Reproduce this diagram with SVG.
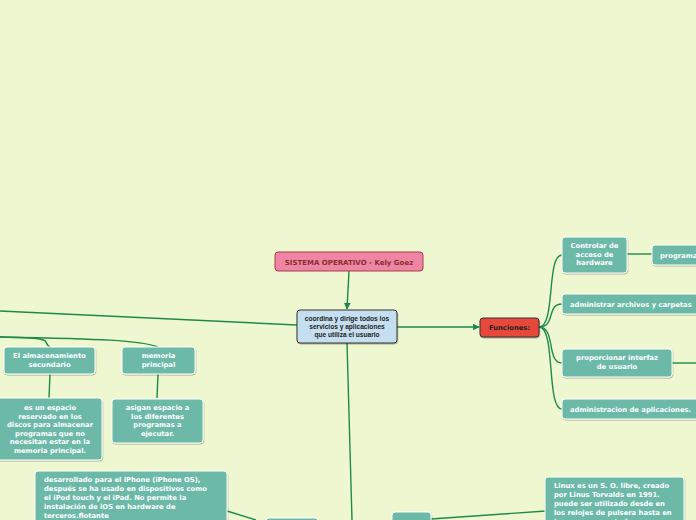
<svg xmlns="http://www.w3.org/2000/svg" width="696" height="520" viewBox="0 0 696 520">
<defs>
<marker id="arr" viewBox="0 0 10 10" refX="9" refY="5" markerWidth="5" markerHeight="5" orient="auto"><path d="M0,0 L10,5 L0,10 z" fill="#1e8a4a"/></marker>
<filter id="sh" x="-10%" y="-10%" width="130%" height="140%"><feDropShadow dx="0.5" dy="1" stdDeviation="0.6" flood-color="#000" flood-opacity="0.3"/></filter>
</defs>
<style>
.bg{fill:#eef7d0}
.c{fill:none;stroke:#1e8a4a;stroke-width:1.4}
.t{fill:#6cb9a8;stroke:#ffffff;stroke-width:1;filter:url(#sh)}
.tt{font-family:"DejaVu Sans",Verdana,sans-serif;font-weight:bold;font-size:6.8px;fill:#ffffff;text-anchor:middle}
.tl{font-family:"DejaVu Sans",Verdana,sans-serif;font-weight:bold;font-size:6.8px;fill:#ffffff}
</style>
<rect class="bg" x="0" y="0" width="696" height="520"/>
<g id="connectors">
<path class="c" d="M349,271 L347,309" marker-end="url(#arr)"/>
<path class="c" d="M397,327 L479,327" marker-end="url(#arr)"/>
<path class="c" d="M297,325 L0,311"/>
<path class="c" d="M0,337 C60,338 40,341 50,347"/>
<path class="c" d="M0,337 C100,339 140,340 158,347"/>
<path class="c" d="M50,374 L49,398"/>
<path class="c" d="M158,374 L157,398"/>
<path class="c" d="M347,343 L352,520"/>
<path class="c" d="M539,327 C556,327 546,255 562,255"/>
<path class="c" d="M539,327 C556,327 546,304 562,304"/>
<path class="c" d="M539,327 C556,327 546,363 562,363"/>
<path class="c" d="M539,327 C556,327 546,409 562,409"/>
<path class="c" d="M627,254 L652,254"/>
<path class="c" d="M672,363 L696,363"/>
<path class="c" d="M227,511 L256,520"/>
<path class="c" d="M431,519 L546,511"/>
</g>
<g id="title">
<rect x="275" y="252" width="148" height="19" rx="3" fill="#ef85a4" stroke="#a83a4a" stroke-width="1"/>
<text x="349" y="264.5" font-family="DejaVu Sans,Verdana,sans-serif" font-weight="bold" font-size="7" fill="#8c2c2c" text-anchor="middle">SISTEMA OPERATIVO - Kely Goez</text>
</g>
<g id="center">
<rect x="297" y="310" width="100" height="33" rx="3" fill="#c5dff0" stroke="#333" stroke-width="1" filter="url(#sh)"/>
<text font-family="Liberation Sans,Arial,sans-serif" font-weight="bold" font-size="6.6" fill="#222" text-anchor="middle"><tspan x="347" y="321">coordina y dirige todos los</tspan><tspan x="347" y="329">servicios y aplicaciones</tspan><tspan x="347" y="337">que utiliza el usuario</tspan></text>
</g>
<g id="funciones">
<rect x="480" y="318" width="59" height="19" rx="3" fill="#e8473a" stroke="#333" stroke-width="1" filter="url(#sh)"/>
<text x="509.5" y="330" font-family="DejaVu Sans,Verdana,sans-serif" font-weight="bold" font-size="6.8" fill="#222" text-anchor="middle">Funciones:</text>
</g>
<g id="controlar">
<rect class="t" x="562" y="237" width="65" height="36" rx="3"/>
<text class="tt"><tspan x="594.5" y="248">Controlar de</tspan><tspan x="594.5" y="256.5">acceso de</tspan><tspan x="594.5" y="265">hardware</tspan></text>
</g>
<g id="programa">
<rect class="t" x="652" y="245" width="60" height="20" rx="3"/>
<text class="tl" x="660" y="257.5">programas</text>
</g>
<g id="archivos">
<rect class="t" x="562" y="294" width="150" height="20" rx="3"/>
<text class="tl" x="570" y="306.5">administrar archivos y carpetas</text>
</g>
<g id="interfaz">
<rect class="t" x="562" y="349" width="110" height="28" rx="3"/>
<text class="tt"><tspan x="617" y="360">proporcionar interfaz</tspan><tspan x="617" y="369">de usuario</tspan></text>
</g>
<g id="aplicaciones">
<rect class="t" x="562" y="399" width="150" height="20" rx="3"/>
<text class="tl" x="570" y="411.5">administracion  de aplicaciones.</text>
</g>
<g id="almacenamiento">
<rect class="t" x="4" y="347" width="91" height="27" rx="3"/>
<text class="tt"><tspan x="49.5" y="358">El almacenamiento</tspan><tspan x="49.5" y="366.5">secundario</tspan></text>
</g>
<g id="memoria">
<rect class="t" x="122" y="347" width="73" height="27" rx="3"/>
<text class="tt"><tspan x="158.5" y="358">memoria</tspan><tspan x="158.5" y="366.5">principal</tspan></text>
</g>
<g id="espacio">
<rect class="t" x="-4" y="398" width="106" height="62" rx="3"/>
<text class="tt"><tspan x="50" y="410">es un espacio</tspan><tspan x="50" y="418.5">reservado en los</tspan><tspan x="50" y="427">discos para almacenar</tspan><tspan x="50" y="435.5">programas que no</tspan><tspan x="50" y="444">necesitan estar en la</tspan><tspan x="50" y="452.5">memoria principal.</tspan></text>
</g>
<g id="asigan">
<rect class="t" x="112" y="399" width="91" height="44" rx="3"/>
<text class="tt"><tspan x="157.5" y="410">asigan espacio a</tspan><tspan x="157.5" y="418.5">los diferentes</tspan><tspan x="157.5" y="427">programas a</tspan><tspan x="157.5" y="435.5">ejecutar.</tspan></text>
</g>
<g id="ios">
<rect class="t" x="35" y="471" width="192" height="60" rx="3"/>
<text class="tl"><tspan x="44" y="482">desarrollado para el iPhone (iPhone OS),</tspan><tspan x="44" y="491">después se ha usado en dispositivos como</tspan><tspan x="44" y="500">el iPod touch y el iPad. No permite la</tspan><tspan x="44" y="509">instalación de iOS en hardware de</tspan><tspan x="44" y="518">terceros.flotante</tspan></text>
</g>
<g id="ios-node">
<rect class="t" x="266" y="518" width="52" height="14" rx="3"/>
</g>
<g id="linux-node">
<rect class="t" x="392" y="512" width="39" height="20" rx="3"/>
</g>
<g id="linux">
<rect class="t" x="545" y="477" width="139" height="60" rx="3"/>
<text class="tl"><tspan x="554" y="488">Linux es un S. O. libre, creado</tspan><tspan x="554" y="497">por Linus Torvalds en 1991.</tspan><tspan x="554" y="506">puede ser utilizado desde en</tspan><tspan x="554" y="515">los relojes de pulsera hasta en</tspan><tspan x="554" y="524">los supercomputadores.</tspan></text>
</g>
</svg>
